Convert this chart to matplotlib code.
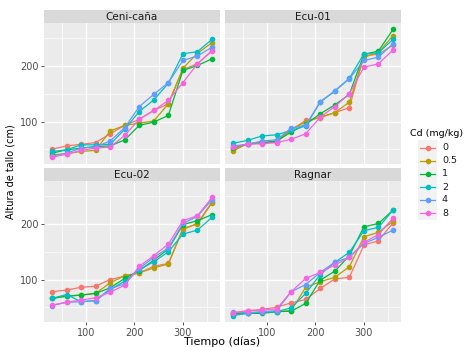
import matplotlib
matplotlib.use("Agg")
import matplotlib.pyplot as plt
from matplotlib.lines import Line2D
from matplotlib.patches import Rectangle
import numpy as np

days = [30, 60, 90, 120, 150, 180, 210, 240, 270, 300, 330, 360]
doses = ["0", "0.5", "1", "2", "4", "8"]
colors = ["#F8766D", "#B79F00", "#00BA38", "#00BFC4", "#619CFF", "#F564E3"]
varieties = ["Ceni-caña", "Ecu-01", "Ecu-02", "Ragnar"]

# rows follow doses order
ceni_cana = [
    [50, 56, 59, 62, 78, 93, 104, 120, 132, 194, 204, 228],
    [40, 42, 46, 48, 83, 93, 97, 101, 132, 196, 223, 242],
    [43, 49, 52, 55, 56, 67, 93, 99, 111, 192, 201, 213],
    [46, 49, 58, 58, 59, 86, 118, 139, 169, 222, 226, 248],
    [37, 43, 52, 54, 65, 89, 127, 149, 170, 210, 218, 234],
    [36, 41, 48, 52, 54, 75, 104, 120, 138, 170, 204, 227],
]
ecu01 = [
    [50, 60, 61, 63, 85, 102, 107, 116, 125, 219, 221, 238],
    [47, 60, 61, 65, 86, 99, 108, 116, 135, 216, 224, 255],
    [52, 60, 62, 65, 81, 95, 114, 130, 149, 221, 227, 266],
    [61, 66, 74, 76, 84, 92, 135, 155, 178, 222, 224, 248],
    [56, 59, 65, 67, 88, 93, 136, 155, 177, 210, 216, 240],
    [54, 59, 60, 62, 68, 78, 108, 127, 150, 198, 204, 229],
]
ecu02 = [
    [78, 81, 86, 88, 100, 106, 112, 124, 129, 190, 201, 240],
    [66, 70, 72, 75, 94, 107, 112, 121, 128, 192, 200, 238],
    [66, 70, 72, 75, 85, 102, 116, 135, 155, 199, 206, 217],
    [66, 73, 60, 62, 82, 97, 118, 132, 150, 182, 189, 212],
    [53, 59, 60, 62, 84, 92, 120, 140, 157, 201, 214, 244],
    [54, 59, 63, 67, 77, 90, 124, 143, 164, 206, 215, 248],
]
ragnar = [
    [40, 44, 46, 50, 58, 64, 84, 101, 104, 162, 170, 202],
    [38, 40, 41, 42, 44, 86, 96, 104, 123, 177, 185, 205],
    [38, 39, 39, 42, 43, 57, 99, 115, 143, 195, 201, 225],
    [35, 39, 41, 42, 49, 75, 109, 131, 149, 188, 194, 225],
    [41, 40, 42, 44, 78, 91, 113, 131, 140, 165, 176, 189],
    [40, 43, 45, 47, 78, 102, 113, 126, 140, 167, 181, 211],
]
panels = [ceni_cana, ecu01, ecu02, ragnar]

W, H = 476, 347
fig = plt.figure(figsize=(W / 100, H / 100), dpi=100)
fig.patch.set_facecolor("white")

def px_box(x0, y0, x1, y1):
    return [x0 / W, (H - y1) / H, (x1 - x0) / W, (y1 - y0) / H]

# ggplot-like shared limits with 5% expansion
allv = np.array(panels, dtype=float)
ylo, yhi = allv.min(), allv.max()
ypad = (yhi - ylo) * 0.05
xpad = (days[-1] - days[0]) * 0.05

cols_px = [(44, 220), (225, 401)]
rows_px = [(23, 164), (181, 322)]
strip_h = 13

for i, (name, data) in enumerate(zip(varieties, panels)):
    r, c = divmod(i, 2)
    x0, x1 = cols_px[c]
    y0, y1 = rows_px[r]
    ax = fig.add_axes(px_box(x0, y0, x1, y1))
    ax.set_facecolor("#EBEBEB")
    for s in ax.spines.values():
        s.set_visible(False)
    ax.set_xlim(days[0] - xpad, days[-1] + xpad)
    ax.set_ylim(ylo - ypad, yhi + ypad)
    ax.set_xticks([100, 200, 300])
    ax.set_yticks([100, 200])
    ax.set_xticks([50, 150, 250, 350], minor=True)
    ax.set_yticks([50, 150, 250], minor=True)
    ax.grid(True, which="major", color="white", lw=1.0)
    ax.grid(True, which="minor", color="white", lw=0.5)
    ax.set_axisbelow(True)
    ax.tick_params(which="minor", length=0)
    ax.tick_params(which="major", length=2.5, width=0.6, color="#333333",
                   labelsize=7, labelcolor="#4D4D4D", pad=1.5)
    if r == 0:
        ax.tick_params(axis="x", labelbottom=False, length=0)
    if c == 1:
        ax.tick_params(axis="y", labelleft=False, length=0)
    for vals, col in zip(data, colors):
        ax.plot(days, vals, color=col, lw=0.9, marker="o", ms=3.0, mec=col)

    sax = fig.add_axes(px_box(x0, y0 - strip_h, x1, y0))
    sax.set_facecolor("#D9D9D9")
    sax.set_xticks([])
    sax.set_yticks([])
    for s in sax.spines.values():
        s.set_visible(False)
    sax.text(0.5, 0.45, name, ha="center", va="center", fontsize=7.5, color="#1A1A1A")

fig.text(222 / W, 1 - 342 / H, "Tiempo (días)", ha="center", va="center", fontsize=8)
fig.text(11 / W, 1 - 172 / H, "Altura de tallo (cm)", ha="center", va="center",
         rotation=90, fontsize=7)

# legend
fig.text(410 / W, 1 - 133 / H, "Cd (mg/kg)", ha="left", va="center", fontsize=6.8)
fig.patches.append(Rectangle((418 / W, 1 - 220 / H), 19 / W, 80 / H,
                             transform=fig.transFigure, facecolor="#F2F2F2",
                             edgecolor="none"))
for j, (lab, col) in enumerate(zip(doses, colors)):
    yy = 1 - (148 + 13 * j) / H
    fig.lines.append(Line2D([420 / W, 435 / W], [yy, yy], transform=fig.transFigure,
                            color=col, lw=0.9))
    fig.lines.append(Line2D([427.5 / W], [yy], transform=fig.transFigure,
                            color=col, marker="o", ms=3))
    fig.text(442 / W, yy, lab, ha="left", va="center", fontsize=6.8, color="#1A1A1A")

fig.savefig("out.png", dpi=100)
